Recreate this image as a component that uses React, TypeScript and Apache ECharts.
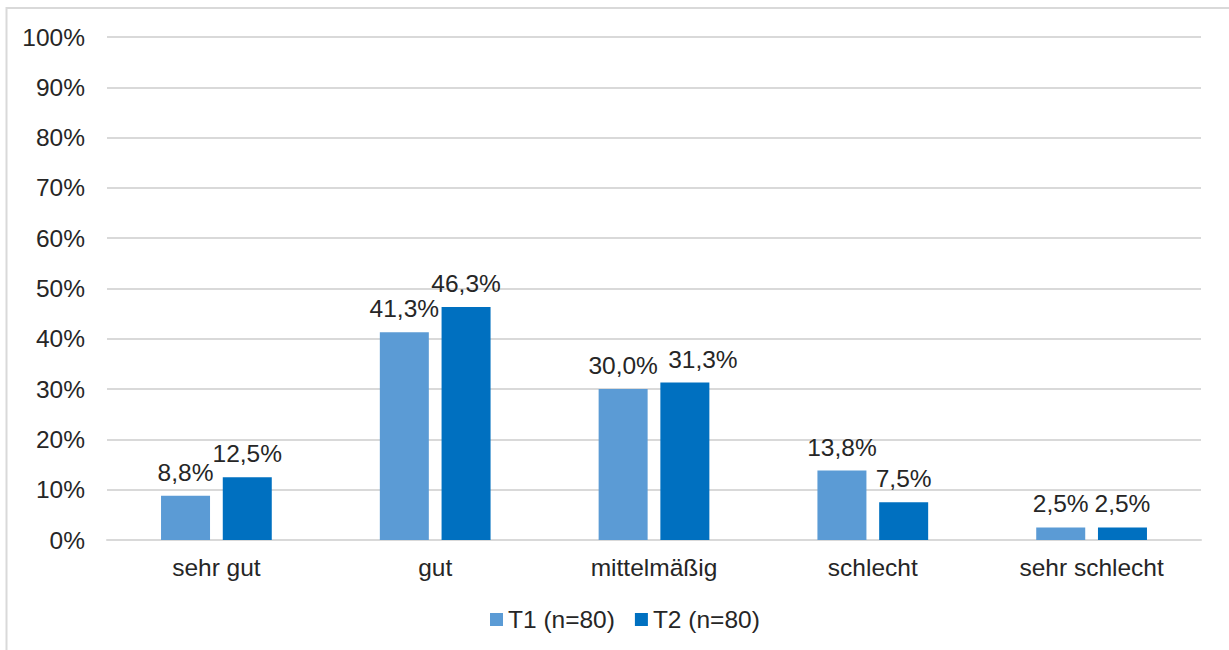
import React, { useEffect, useRef } from "react";
import * as echarts from "echarts";

const categories = ["sehr gut", "gut", "mittelmäßig", "schlecht", "sehr schlecht"];
const seriesNames = ["T1 (n=80)", "T2 (n=80)"];
const t1Values = [8.8, 41.3, 30.0, 13.8, 2.5];
const t2Values = [12.5, 46.3, 31.3, 7.5, 2.5];
const t2LabelOffsets = [0, 0, 18, 0, 0];
const colors = ["#5B9BD5", "#0070C0"];

const FONT = "'Liberation Sans', Arial, sans-serif";
const TEXT = "#262626";
const FS = 24.5;

const fmt = (v: number) => v.toFixed(1).replace(".", ",") + "%";

export default function App() {
  const ref = useRef<HTMLDivElement>(null);
  useEffect(() => {
    if (!ref.current) return;
    const chart = echarts.init(ref.current, undefined, { renderer: "svg" });
    const labelBase = {
      show: true,
      position: "top",
      distance: 11,
      fontFamily: FONT,
      fontSize: FS,
      color: TEXT,
      formatter: (p: any) => fmt(p.value),
    };
    chart.setOption({
      animation: false,
      backgroundColor: "#ffffff",
      textStyle: { fontFamily: FONT },
      grid: { left: 107, right: 28, top: 37, bottom: 110, containLabel: false },
      legend: {
        data: seriesNames,
        left: 485,
        top: 602,
        itemWidth: 13,
        itemHeight: 13,
        itemGap: 20,
        icon: "rect",
        textStyle: { fontFamily: FONT, fontSize: FS, color: TEXT },
      },
      xAxis: {
        type: "category",
        data: categories,
        axisLine: { show: true, lineStyle: { color: "#d9d9d9", width: 2 } },
        axisTick: { show: false },
        axisLabel: { fontFamily: FONT, fontSize: FS, color: TEXT, margin: 15 },
      },
      yAxis: {
        type: "value",
        min: 0,
        max: 100,
        interval: 10,
        axisLine: { show: false },
        axisTick: { show: false },
        splitLine: { lineStyle: { color: "#d9d9d9", width: 2 } },
        axisLabel: {
          fontFamily: FONT,
          fontSize: FS,
          color: TEXT,
          margin: 22,
          formatter: (v: number) => v + "%",
        },
      },
      series: [
        {
          name: seriesNames[0],
          type: "bar",
          data: t1Values,
          barWidth: 49,
          barGap: "26%",
          itemStyle: { color: colors[0] },
          label: labelBase,
        },
        {
          name: seriesNames[1],
          type: "bar",
          data: t2Values.map((v, i) => ({
            value: v,
            label: { offset: [t2LabelOffsets[i], 0] },
          })),
          barWidth: 49,
          barGap: "26%",
          itemStyle: { color: colors[1] },
          label: labelBase,
        },
      ],
      graphic: [
        {
          type: "polyline",
          shape: { points: [[6.5, 650], [6.5, 8], [1229, 8]] },
          style: { stroke: "#d9d9d9", lineWidth: 2, fill: "none" },
          silent: true,
        },
      ],
    });
    return () => chart.dispose();
  }, []);
  return (
    <div
      ref={ref}
      style={{ position: "fixed", left: 0, top: 0, width: 1229, height: 650 }}
    />
  );
}
